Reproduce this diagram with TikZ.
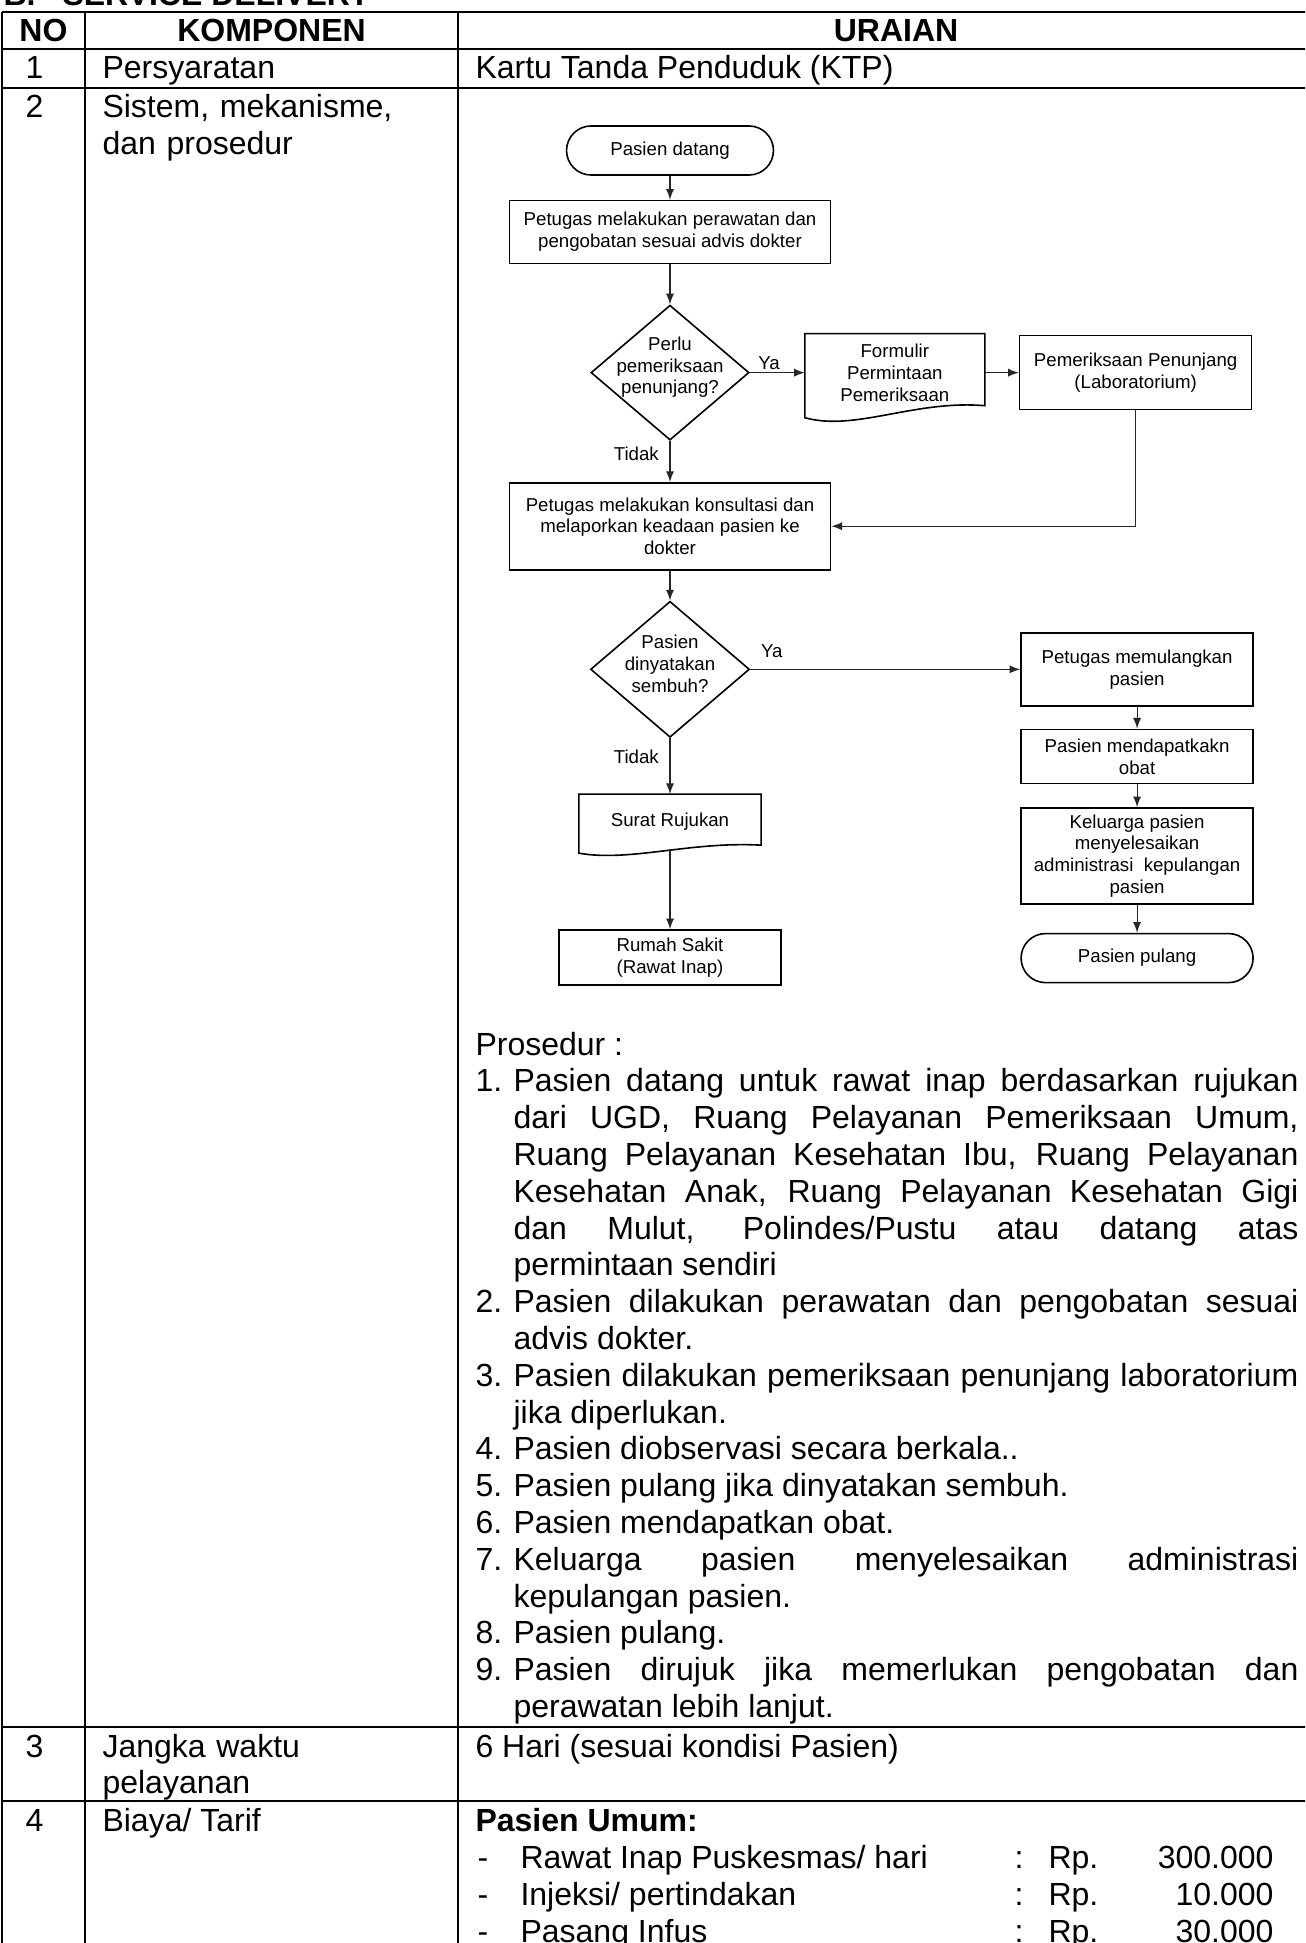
\documentclass[tikz,border=0pt]{standalone}
\usepackage{fontspec}
\setmainfont{Liberation Sans}
\usepackage{tikz}
\usetikzlibrary{calc,positioning,arrows,shapes.geometric}
\tolerance=10000
\hbadness=10000
\newcommand{\itm}[1]{\par\hangindent=14.25pt\hangafter=1\noindent\makebox[14.25pt][l]{#1}}

\begin{document}
\begin{tikzpicture}[x=0.375pt,y=-0.375pt,>=latex]
    \tikzstyle{cell}=[inner sep=0,anchor=base west,font=\fontsize{12}{13.8}\selectfont]
    \tikzstyle{hd}=[inner sep=0,anchor=base,font=\fontsize{12}{13.8}\selectfont\bfseries]
    \tikzstyle{grid}=[line width=0.8pt]
    \tikzstyle{fc}=[font=\fontsize{7}{8.2}\selectfont,align=center,inner sep=0]
    \tikzstyle{proc}=[fc,rectangle,draw,line width=0.6pt]
    \tikzstyle{term}=[fc,rectangle,rounded corners=9.2pt,draw,line width=0.6pt,minimum height=18.4pt]
    \tikzstyle{dec}=[diamond,draw,line width=0.6pt,inner sep=0]
    \tikzstyle{doc}=[fc,rectangle]
    \tikzstyle{lbl}=[font=\fontsize{7}{8.2}\selectfont,inner sep=1pt]
    \tikzstyle{link}=[->,line width=0.4pt,draw=black!85]
    \useasboundingbox (0,0) rectangle (1305,1943);
    \fill[white] (0,0) rectangle (1305,1943);
    \clip (0,0) rectangle (1305,1943);
    % table
    \foreach \y in {12,49,88,1727,1801} \draw[grid] (2,\y) -- (1320,\y);
    \foreach \x in {2,85,458} \draw[grid] (\x,12) -- (\x,1960);
    \node[hd,anchor=base west] (secb) at (3,5.5) {B.};
    \node[hd,anchor=base west] (sec) at (62,5.5) {SERVICE DELIVERY};
    \node[hd] (hno) at (43.5,42) {NO};
    \node[hd] (hkomp) at (271.5,42) {KOMPONEN};
    \node[hd] (hur) at (896,42) {URAIAN};
    \node[cell] (n1) at (25,79) {1};
    \node[cell] (k1) at (102,79) {Persyaratan};
    \node[cell] (u1) at (475,79) {Kartu Tanda Penduduk (KTP)};
    \node[cell] (n2) at (25,118) {2};
    \node[cell,text width=130pt,align=left] (k2) at (102,118) {Sistem, mekanisme,\\dan prosedur};
    \node[cell] (n3) at (25,1757) {3};
    \node[cell,text width=130pt,align=left] (k3) at (102,1757) {Jangka waktu\\pelayanan};
    \node[cell] (u3) at (475,1757) {6 Hari (sesuai kondisi Pasien)};
    \node[cell] (n4) at (25,1831) {4};
    \node[cell] (k4) at (102,1831) {Biaya/ Tarif};
    % flowchart
    \node[term,minimum width=77.6pt] (datang) at (670,150.5) {Pasien datang};
    \node[proc,minimum width=120.4pt,minimum height=23.6pt] (rawat) [below=9pt of datang] {Petugas melakukan perawatan dan\\pengobatan sesuai advis dokter};
    \node[dec,minimum width=59.3pt,minimum height=50.6pt,label={[lbl,align=center,yshift=2pt]center:Perlu\\pemeriksaan\\penunjang?}] (perlu) [below=15pt of rawat] {};
    \node[doc,minimum width=67.1pt,minimum height=28.9pt] (form) [right=20.6pt of perlu] {Formulir\\Permintaan\\Pemeriksaan};
    \node[proc,minimum width=87pt,minimum height=27.75pt] (lab) [right=12.75pt of form] {Pemeriksaan Penunjang\\(Laboratorium)};
    \node[proc,minimum width=120.4pt,minimum height=32.6pt] (konsul) [below=15.4pt of perlu] {Petugas melakukan konsultasi dan\\melaporkan keadaan pasien ke\\dokter};
    \node[dec,minimum width=59.6pt,minimum height=51pt,label={[lbl,align=center,yshift=2pt]center:Pasien\\dinyatakan\\sembuh?}] (sembuh) [below=11.25pt of konsul] {};
    \node[proc,minimum width=87pt,minimum height=27.4pt] (pulangkan) [right=101.25pt of sembuh] {Petugas memulangkan\\pasien};
    \node[proc,minimum width=87pt,minimum height=20.25pt] (obat) [below=8.25pt of pulangkan] {Pasien mendapatkakn\\obat};
    \node[proc,minimum width=87pt,minimum height=36pt] (admin) [below=8.6pt of obat] {Keluarga pasien\\menyelesaikan\\administrasi\ \ kepulangan\\pasien};
    \node[term,minimum width=87pt] (pulang) [below=10.5pt of admin] {Pasien pulang};
    \node[doc,minimum width=67.9pt,minimum height=20.25pt] (rujukan) [below=21pt of sembuh] {Surat Rujukan};
    \node[proc,minimum width=83.25pt,minimum height=20.6pt] (rs) [below=30pt of rujukan] {Rumah Sakit\\(Rawat Inap)};
    % wavy bottoms
    \draw[line width=0.6pt] ($(form.south west)+(0,6)$) -- (form.north west) -- (form.north east) -- ($(form.south east)+(0,-6)$) .. controls ($(form.south)+(20,-12)$) and ($(form.south)+(-40,20)$) .. cycle;
    \draw[line width=0.6pt] ($(rujukan.south west)+(0,4)$) -- (rujukan.north west) -- (rujukan.north east) -- ($(rujukan.south east)+(0,-4)$) .. controls ($(rujukan.south)+(20,-8)$) and ($(rujukan.south)+(-40,13)$) .. cycle;
    \draw[link] (datang) -- (rawat);
    \draw[link] (rawat) -- (perlu);
    \draw[link] (perlu) -- node[lbl,above,pos=0.35] (ya1) {Ya} (form);
    \draw[link] (form) -- (lab);
    \draw[link] (lab.south) |- (konsul.east);
    \draw[link] (perlu) -- node[lbl,left=3pt,pos=0.32] (tidak1) {Tidak} (konsul);
    \draw[link] (konsul) -- (sembuh);
    \draw[link] (sembuh) -- node[lbl,above=3pt,pos=0.08] (ya2) {Ya} (pulangkan);
    \draw[link] (pulangkan) -- (obat);
    \draw[link] (obat) -- (admin);
    \draw[link] (admin) -- (pulang);
    \draw[link] (sembuh) -- node[lbl,left=3pt,pos=0.34] (tidak2) {Tidak} (rujukan);
    \draw[link] (rujukan) -- (rs);
    % prosedur
    \node[cell,text width=308.6pt,align=justify] (pros) at (475,1055) {Prosedur :
      \itm{1.}Pasien datang untuk rawat inap berdasarkan rujukan\linebreak
      dari UGD, Ruang Pelayanan Pemeriksaan Umum,\linebreak
      Ruang Pelayanan Kesehatan Ibu, Ruang Pelayanan\linebreak
      Kesehatan Anak, Ruang Pelayanan Kesehatan Gigi\linebreak
      dan Mulut, Polindes/Pustu atau datang atas\linebreak
      permintaan sendiri
      \itm{2.}Pasien dilakukan perawatan dan pengobatan sesuai\linebreak
      advis dokter.
      \itm{3.}Pasien dilakukan pemeriksaan penunjang laboratorium\linebreak
      jika diperlukan.
      \itm{4.}Pasien diobservasi secara berkala..
      \itm{5.}Pasien pulang jika dinyatakan sembuh.
      \itm{6.}Pasien mendapatkan obat.
      \itm{7.}Keluarga pasien menyelesaikan administrasi\linebreak
      kepulangan pasien.
      \itm{8.}Pasien pulang.
      \itm{9.}Pasien dirujuk jika memerlukan pengobatan dan\linebreak
      perawatan lebih lanjut.\par};
    % tarif
    \node[cell,font=\fontsize{12}{13.8}\selectfont\bfseries] (umum) at (475,1831) {Pasien Umum:};
    \node[cell] (s1) at (477,1868) {-};
    \node[cell] (t1) at (520,1868) {Rawat Inap Puskesmas/ hari};
    \node[cell] (c1) at (1014,1868) {:};
    \node[cell] (r1) at (1048,1868) {Rp.};
    \node[cell,anchor=base east] (v1) at (1274,1868) {300.000};
    \node[cell] (s2) at (477,1905) {-};
    \node[cell] (t2) at (520,1905) {Injeksi/ pertindakan};
    \node[cell] (c2) at (1014,1905) {:};
    \node[cell] (r2) at (1048,1905) {Rp.};
    \node[cell,anchor=base east] (v2) at (1274,1905) {10.000};
    \node[cell] (s3) at (477,1942) {-};
    \node[cell] (t3) at (520,1942) {Pasang Infus};
    \node[cell] (c3) at (1014,1942) {:};
    \node[cell] (r3) at (1048,1942) {Rp.};
    \node[cell,anchor=base east] (v3) at (1274,1942) {30.000};
\end{tikzpicture}
\end{document}
